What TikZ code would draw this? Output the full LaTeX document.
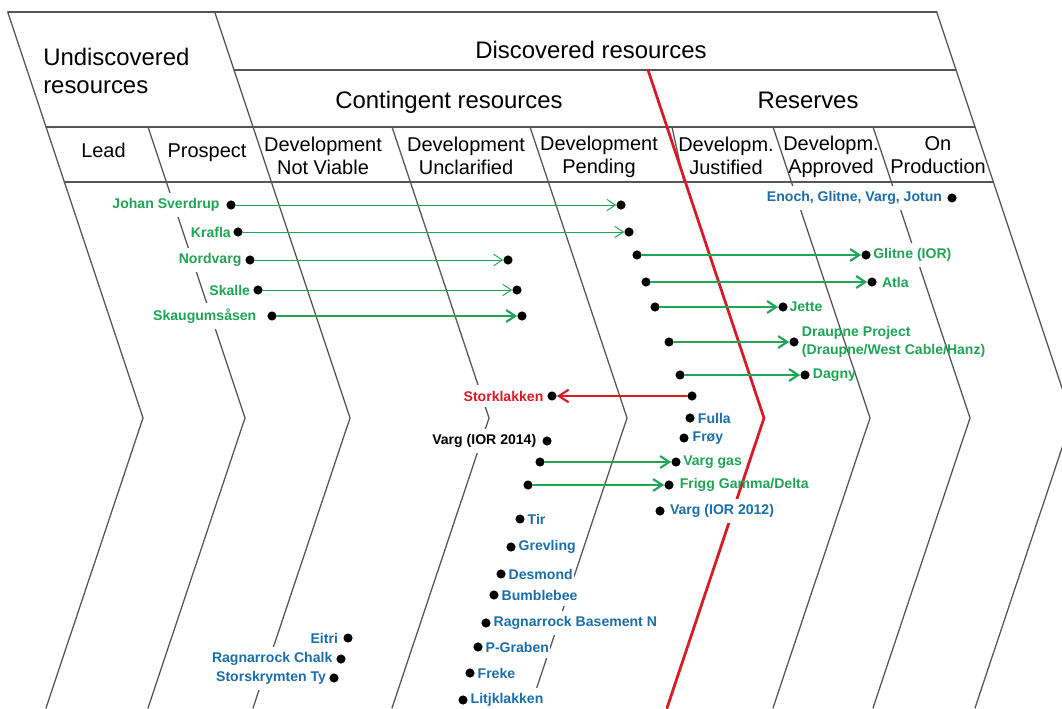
\documentclass[tikz,border=0pt]{standalone}
\usepackage{fontspec}
\setmainfont{Liberation Sans}
\usetikzlibrary{positioning,arrows.meta}
\definecolor{fieldgreen}{RGB}{32,164,86}
\definecolor{fieldblue}{RGB}{28,110,170}
\definecolor{fieldred}{RGB}{214,28,38}
\definecolor{linegray}{RGB}{85,85,85}

\begin{document}
\begin{tikzpicture}[x=0.025cm, y=-0.025cm, line join=round, line cap=round,
	edge/.style={linegray, line width=0.9pt},
	head/.style={font=\fontsize{17}{20}\selectfont, inner sep=0pt},
	cat/.style={font=\fontsize{14.2}{16.4}\selectfont, align=center, inner sep=0pt},
	dot/.style={circle, fill=black, inner sep=0pt, minimum size=6.5pt},
	lbl/.style={font=\fontsize{10}{12.8}\selectfont\bfseries, fill=white, inner xsep=1pt, inner ysep=4pt},
	grn/.style={lbl, text=fieldgreen},
	blu/.style={lbl, text=fieldblue},
	shiftthin/.style={fieldgreen, line width=0.7pt, -{Straight Barb[length=6pt, width=8pt]}},
	shiftthick/.style={fieldgreen, line width=1.5pt, -{Straight Barb[length=6.5pt, width=8.5pt]}},
	shiftback/.style={fieldred, line width=1.5pt, -{Straight Barb[length=7pt, width=9pt]}}]
	\useasboundingbox (0,0) rectangle (1062,708);
	\clip (0,0) rectangle (1062,708);

	% Header rows
	\draw[edge] (8,12) -- (937,12);
	\draw[edge] (234,70) -- (956,70);
	\draw[edge] (46,127) -- (975,127);
	\draw[edge] (64.3,182) -- (993.3,182);

	% Column borders (chevrons)
	\foreach \xa/\ya in {46/12, 148/127, 253/12, 392/127, 530/127, 773/127, 873/127, 975/12} {
		\draw[edge] ({\xa-(127-\ya)/3}, \ya) -- ({\xa+97}, 418) -- (\xa, 708);
	}
	\draw[edge] (672,127) -- (684,182);

	% Contingent / reserves border
	\draw[fieldred, line width=2pt] (648,70) -- (764,418) -- (667,708);

	% Header texts
	\node[head, align=left, anchor=west] (undisc) at (43,71) {Undiscovered\\resources};
	\node[head, anchor=base] (disc) at (591,59) {Discovered resources};
	\node[head, anchor=base] (cont) at (449,109) {Contingent resources};
	\node[head, anchor=base] (resv) at (808,109) {Reserves};

	\node[cat] (lead) at (103.5,150.5) {Lead};
	\node[cat] (prosp) at (207,152.5) {Prospect};
	\node[cat] (notviable) at (323,155.5) {Development\\Not Viable};
	\node[cat] (unclar) at (466,155.5) {Development\\Unclarified};
	\node[cat] (pend) at (599,157) {Development\\Pending};
	\node[cat] (justif) at (726,155.5) {Developm.\\Justified};
	\node[cat] (approv) at (831,157) {Developm.\\Approved};
	\node[cat] (onprod) at (938,155.5) {On\\Production};

	% Fields that moved (thin arrows)
	\node[dot] (js) at (231,205) {};
	\node[dot] (jsEnd) at (621,205) {};
	\node[grn, left=3.5pt of js] (jsName) {Johan Sverdrup};
	\node[dot] (kr) at (238,232) {};
	\node[dot] (krEnd) at (629,232) {};
	\node[grn, left=0.5pt of kr] (krName) {Krafla};
	\node[dot] (nv) at (250,260) {};
	\node[dot] (nvEnd) at (508,260) {};
	\node[grn, left=1.5pt of nv] (nvName) {Nordvarg};
	\node[dot] (sk) at (258,290) {};
	\node[dot] (skEnd) at (517,290) {};
	\node[grn, left=1pt of sk] (skName) {Skalle};
	\draw[shiftthin] (js) -- (jsEnd);
	\draw[shiftthin] (kr) -- (krEnd);
	\draw[shiftthin] (nv) -- (nvEnd);
	\draw[shiftthin] (sk) -- (skEnd);

	% Fields that moved (thick arrows)
	\node[dot] (sa) at (272,316) {};
	\node[dot] (saEnd) at (522,316) {};
	\node[grn, left=6.5pt of sa] (saName) {Skaugumsåsen};
	\node[dot] (gl) at (637,255) {};
	\node[dot] (glEnd) at (866,255) {};
	\node[grn, right=0.5pt of glEnd] (glName) {Glitne (IOR)};
	\node[dot] (at) at (646,282) {};
	\node[dot] (atEnd) at (872,282) {};
	\node[grn, right=2.5pt of atEnd] (atName) {Atla};
	\node[dot] (je) at (655,307) {};
	\node[dot] (jeEnd) at (783,307) {};
	\node[grn, right=0pt of jeEnd] (jeName) {Jette};
	\node[dot] (dr) at (669,342) {};
	\node[dot] (drEnd) at (794,342) {};
	\node[grn, fill=none, align=left, right=1pt of drEnd] (drName) {Draupne Project\\(Draupne/West Cable/Hanz)};
	\node[dot] (dg) at (680,375) {};
	\node[dot] (dgEnd) at (805,375) {};
	\node[grn, fill=none, right=1pt of dgEnd] (dgName) {Dagny};
	\node[dot] (vg) at (540,462) {};
	\node[dot] (vgEnd) at (676,462) {};
	\node[grn, right=0.5pt of vgEnd] (vgName) {Varg gas};
	\node[dot] (fg) at (528,485) {};
	\node[dot] (fgEnd) at (669,485) {};
	\node[grn, fill=none, right=3pt of fgEnd] (fgName) {Frigg Gamma/Delta};
	\draw[shiftthick] (sa) -- (saEnd);
	\draw[shiftthick] (gl) -- (glEnd);
	\draw[shiftthick] (at) -- (atEnd);
	\draw[shiftthick] (je) -- (jeEnd);
	\draw[shiftthick] (dr) -- (drEnd);
	\draw[shiftthick] (dg) -- (dgEnd);
	\draw[shiftthick] (vg) -- (vgEnd);
	\draw[shiftthick] (fg) -- (fgEnd);

	% Field moved back
	\node[dot] (sl) at (692,396) {};
	\node[dot] (slEnd) at (552,396) {};
	\node[lbl, text=fieldred, left=1.5pt of slEnd] (slName) {Storklakken};
	\draw[shiftback] (sl) -- (slEnd);

	% Fields that stay
	\node[dot] (en) at (952,198) {};
	\node[blu, left=2.5pt of en] (enName) {Enoch, Glitne, Varg, Jotun};
	\node[dot] (fu) at (690,418) {};
	\node[blu, right=1pt of fu] (fuName) {Fulla};
	\node[dot] (fr) at (684,438) {};
	\node[blu, right=1.5pt of fr] (frName) {Frøy};
	\node[dot] (v14) at (547,441) {};
	\node[lbl, left=3pt of v14] (v14Name) {Varg (IOR 2014)};
	\node[dot] (v12) at (660,511) {};
	\node[blu, right=2.5pt of v12] (v12Name) {Varg (IOR 2012)};

	\foreach \n/\x/\y/\t in {ti/520/519/Tir, gr/511/547/Grevling, de/501/574/Desmond,
		bu/494/595/Bumblebee, rb/486/623/Ragnarrock Basement N, pg/478/647/P-Graben,
		fk/470/673/Freke, lk/463/700/Litjklakken} {
		\node[dot] (\n) at (\x,\y) {};
		\node[blu, right=0.8pt of \n] (\n Name) {\t};
	}

	\foreach \n/\x/\y/\t/\d in {ei/348/638/Eitri/2.5pt, rc/341/659/Ragnarrock Chalk/1.5pt,
		sy/334/678/Storskrymten Ty/1pt} {
		\node[dot] (\n) at (\x,\y) {};
		\node[blu, left=\d of \n] (\n Name) {\t};
	}
\end{tikzpicture}
\end{document}
